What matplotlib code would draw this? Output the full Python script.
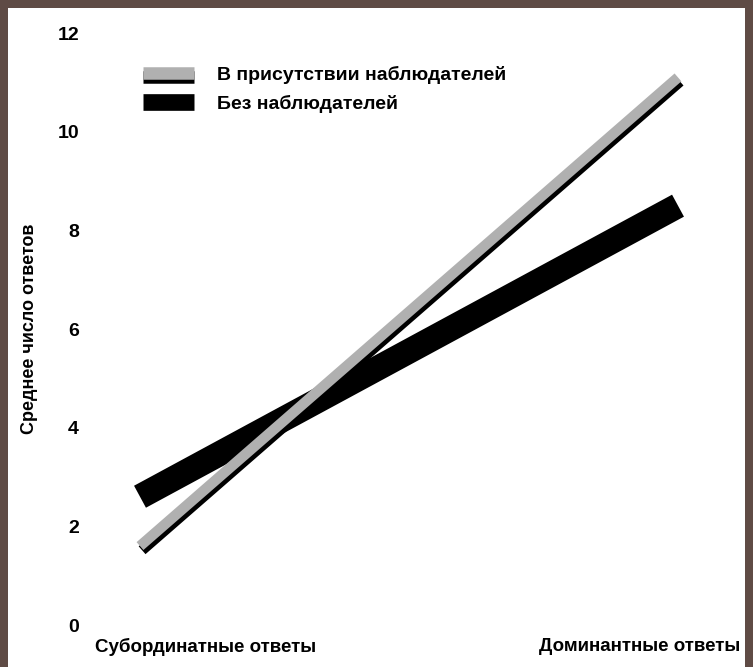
import matplotlib
matplotlib.use("Agg")
import matplotlib.pyplot as plt
from matplotlib import patheffects as pe
from matplotlib.lines import Line2D
from matplotlib.patches import Rectangle
from matplotlib import font_manager

categories = ["Субординатные ответы", "Доминантные ответы"]
series_names = ["В присутствии наблюдателей", "Без наблюдателей"]
with_observers = [1.6, 11.1]
without_observers = [2.6, 8.5]
y_ticks = [0, 2, 4, 6, 8, 10, 12]
y_label = "Среднее число ответов"

names = {f.name for f in font_manager.fontManager.ttflist}
fam = [n for n in ["Liberation Sans Narrow", "DejaVu Sans Condensed", "Liberation Sans"] if n in names] + ["DejaVu Sans"]
plt.rcParams["font.family"] = fam

W, H = 753, 667
fig = plt.figure(figsize=(W / 100, H / 100), dpi=100)
fig.patch.set_facecolor("#5f4b45")
fig.add_artist(Rectangle((8 / W, 0), (745 - 8) / W, (659) / H, transform=fig.transFigure,
                         facecolor="white", edgecolor="none", zorder=0))

left, right, bottom, top = 90, 735, 667 - 625, 667 - 33
ax = fig.add_axes([left / W, bottom / H, (right - left) / W, (top - bottom) / H])
ax.set_facecolor("none")
for s in ax.spines.values():
    s.set_visible(False)

x = list(range(len(categories)))
px0, px1 = 140, 678
scale = (px1 - px0)
ax.set_xlim(0 - (px0 - left) / scale, 1 + (right - px1) / scale)
ax.set_ylim(0, 12)

gray_fx = [pe.SimpleLineShadow(offset=(1.5, -3), shadow_color="black", alpha=1.0), pe.Normal()]
ax.plot(x, without_observers, color="black", lw=18, solid_capstyle="butt", zorder=2)
ax.plot(x, with_observers, color="#b0b0b0", lw=7.5, solid_capstyle="butt", zorder=3,
        path_effects=gray_fx)

ax.set_yticks(y_ticks)
ax.set_yticklabels([str(v) for v in y_ticks], fontsize=14, fontweight="bold")
ax.tick_params(axis="y", length=0, pad=8)
ax.set_xticks([])
ax.set_ylabel(y_label, fontsize=13, fontweight="bold", labelpad=14)

ax.text(0.008, -0.022, categories[0], transform=ax.transAxes, ha="left", va="top",
        fontsize=13.5, fontweight="bold")
ax.text(1.008, -0.022, categories[1], transform=ax.transAxes, ha="right", va="top",
        fontsize=13.5, fontweight="bold")

h1 = Line2D([], [], color="#b0b0b0", lw=9, solid_capstyle="butt",
            path_effects=[pe.SimpleLineShadow(offset=(0, -3), shadow_color="black", alpha=1.0), pe.Normal()])
h2 = Line2D([], [], color="black", lw=12, solid_capstyle="butt")
leg = ax.legend([h1, h2], series_names, loc="upper left",
                bbox_to_anchor=(126 / W, (667 - 48) / H), bbox_transform=fig.transFigure,
                frameon=False, handlelength=2.6, handletextpad=1.2, labelspacing=0.6,
                prop={"size": 14, "weight": "bold", "family": fam})

fig.savefig("out.png", dpi=100)
